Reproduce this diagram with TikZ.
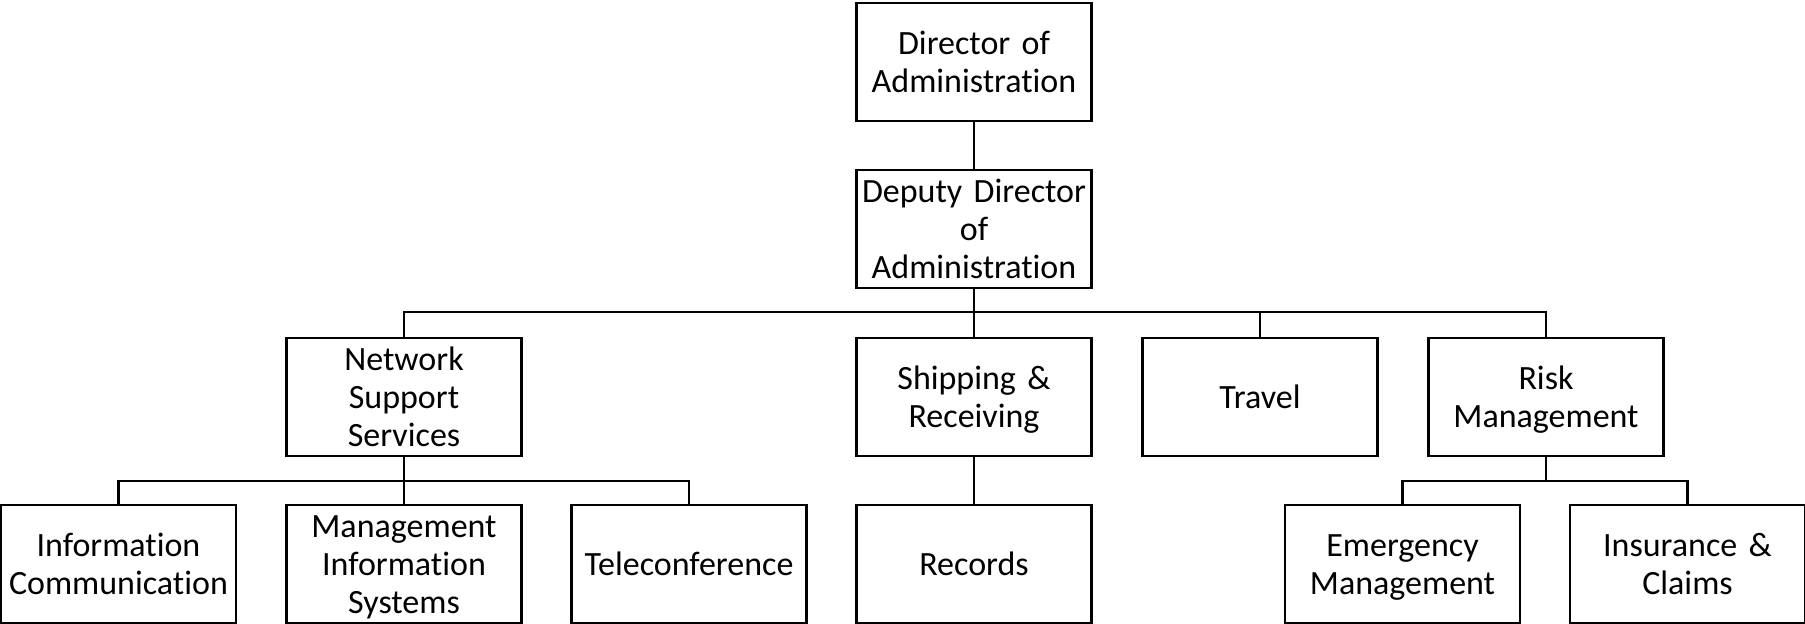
\documentclass[tikz,border=0pt]{standalone}
\usepackage{fontspec}
\setmainfont{Carlito}[RawFeature={-liga}]

\begin{document}
\begin{tikzpicture}[x=0.5pt,y=0.5pt,
  block/.style={rectangle,draw,line width=1.3pt,text width=116pt,align=center,
    minimum width=117.5pt,minimum height=59pt,inner sep=0pt,
    font=\fontsize{17}{19}\selectfont,
    execute at begin node={\rule{0pt}{15.5pt}},
    execute at end node={\rule[-4pt]{0pt}{4pt}}},
  link/.style={line width=1.3pt}]
\def\hZero{562}
\def\hOne{395}
\def\hTwo{227}
\def\hThree{60}
\def\busOne{312}
\def\busTwo{143}
\useasboundingbox (0,0) rectangle (1805,624);
  %\draw[help lines] (0,0) grid[step=100] (1805,624);
\path
(974,\hZero) node [block] (dir) {Director of\\Administration}
(974,\hOne) node [block] (deputy) {Deputy Director\\of\\Administration}
(404,\hTwo) node [block] (net) {Network\\Support\\Services}
(974,\hTwo) node [block] (ship) {Shipping \&\\Receiving}
(1260,\hTwo) node [block] (travel) {Travel}
(1546,\hTwo) node [block] (risk) {Risk\\Management}
(118.5,\hThree) node [block] (info) {Information\\Communication}
(404,\hThree) node [block] (mis) {Management\\Information\\Systems}
(689,\hThree) node [block] (tele) {Teleconference}
(974,\hThree) node [block] (records) {Records}
(1402.5,\hThree) node [block] (emerg) {Emergency\\Management}
(1687.5,\hThree) node [block] (insur) {Insurance \&\\Claims}
;

\coordinate (bus1) at (974,\busOne);
\coordinate (bus2) at (404,\busTwo);
\coordinate (bus3) at (1546,\busTwo);

\draw[link] (dir) -- (deputy);
\foreach \c in {net,ship,travel,risk}
  \draw[link] (deputy.south) -- (bus1) -| (\c.north);
\foreach \c in {info,mis,tele}
  \draw[link] (net.south) -- (bus2) -| (\c.north);
\draw[link] (ship) -- (records);
\foreach \c in {emerg,insur}
  \draw[link] (risk.south) -- (bus3) -| (\c.north);

\end{tikzpicture}
\end{document}
